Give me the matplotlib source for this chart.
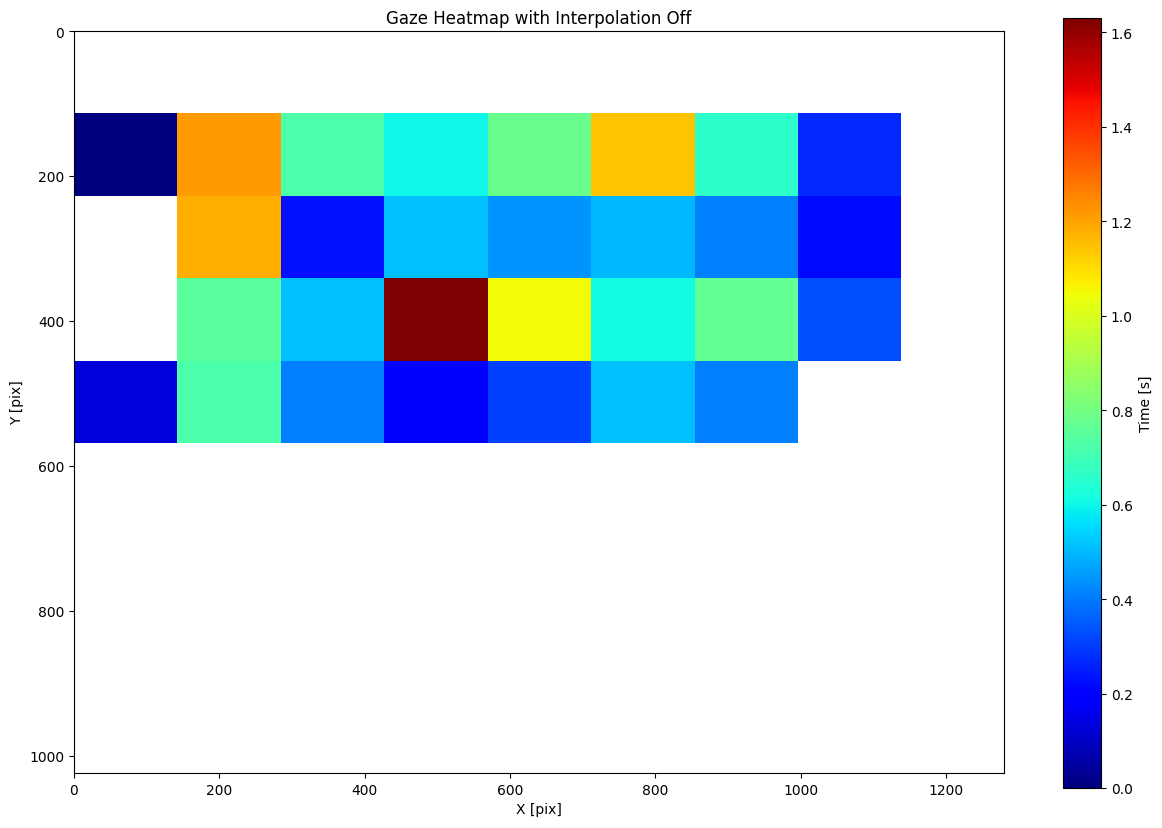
import matplotlib
matplotlib.use("Agg")
import matplotlib.pyplot as plt
import numpy as np

# screen and grid
screen_w, screen_h = 1280, 1024
n_cols, n_rows = 9, 9

# dwell time per grid cell [s], NaN = no gaze
row1 = [0.00, 1.21, 0.72, 0.60, 0.78, 1.14, 0.66, 0.27, np.nan]
row2 = [np.nan, 1.18, 0.23, 0.51, 0.44, 0.50, 0.41, 0.22, np.nan]
row3 = [np.nan, 0.75, 0.51, 1.63, 1.05, 0.61, 0.77, 0.325, np.nan]
row4 = [0.13, 0.72, 0.41, 0.19, 0.31, 0.51, 0.41, np.nan, np.nan]
empty_row = [np.nan] * n_cols

heat = np.array([empty_row, row1, row2, row3, row4,
                 empty_row, empty_row, empty_row, empty_row])

fig = plt.figure(figsize=(11.62, 8.29), dpi=100)
ax = fig.add_axes([74 / 1162, 55 / 829, 930 / 1162, 742 / 829])
cax = fig.add_axes([1063 / 1162, 40 / 829, 38 / 1162, 770 / 829])

im = ax.imshow(heat, cmap="jet", interpolation="none", aspect="auto",
               extent=(0, screen_w, screen_h, 0), vmin=0, vmax=np.nanmax(heat))
ax.set_xlim(0, screen_w)
ax.set_ylim(screen_h, 0)
ax.set_title("Gaze Heatmap with Interpolation Off")
ax.set_xlabel("X [pix]")
ax.set_ylabel("Y [pix]")

cb = fig.colorbar(im, cax=cax)
cb.set_label("Time [s]")

fig.savefig("out.png", dpi=100)
plt.close(fig)
